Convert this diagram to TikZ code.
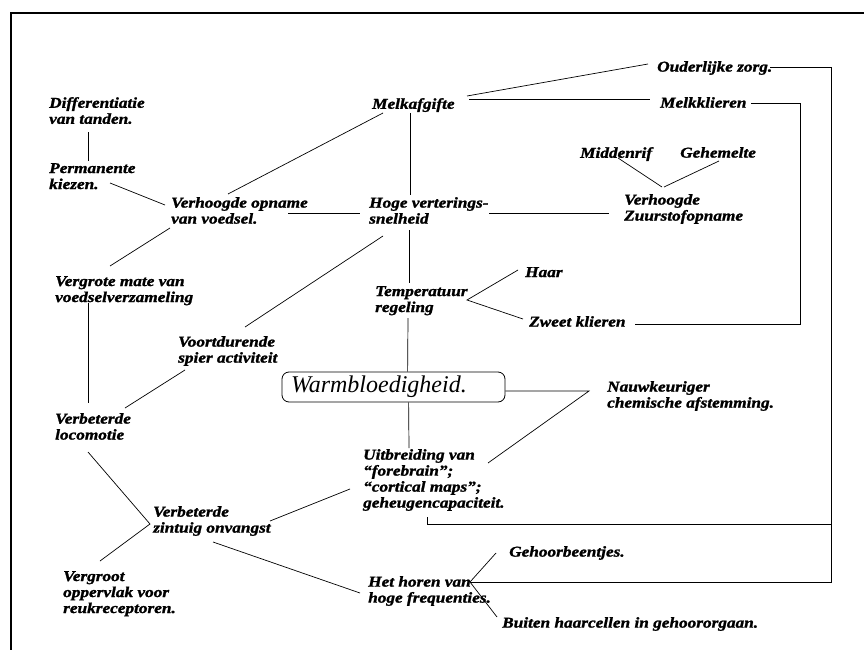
\documentclass[tikz,border=0pt]{standalone}
\usepackage{fontspec}
\setmainfont{Liberation Serif}
\newfontfamily\lblfont{Liberation Serif Bold Italic}[FakeStretch=1.15,FakeBold=1.5]
\newfontfamily\warmfont{Liberation Serif Italic}
\usetikzlibrary{calc}

\begin{document}
\begin{tikzpicture}[x=1pt,y=-1pt]
\tikzstyle{lbl}=[anchor=north west,inner sep=0pt,align=left,font=\lblfont\fontsize{15}{16}\selectfont]
\tikzstyle{conn}=[line width=.7pt]
\tikzstyle{warmbox}=[draw,line width=.8pt,rounded corners=7pt,text width=205pt,inner xsep=9pt,align=left,minimum height=30pt,inner ysep=0pt,font=\warmfont\fontsize{24}{24}\selectfont]

\useasboundingbox (0,0) rectangle (864,650);
\draw[line width=2pt] (11,650) -- (11,13) -- (864,13);

\node (diff) [lbl] at (49,97) {Differentiatie\\van tanden.};
\node (perm) [lbl] at (49,163) {Permanente\\kiezen.};
\node (opname) [lbl] at (171,197) {Verhoogde opname\\van voedsel.};
\node (melkafg) [lbl] at (372,98) {Melkafgifte};
\node (hoge) [lbl] at (369,197) {Hoge verterings-\\snelheid};
\node (zuur) [lbl] at (624,194) {Verhoogde\\Zuurstofopname};
\node (midden) [lbl] at (580,147) {Middenrif};
\node (gehem) [lbl] at (680,147) {Gehemelte};
\node (ouder) [lbl] at (657,61) {Ouderlijke zorg.};
\node (melkkl) [lbl] at (660,97) {Melkklieren};
\node (temp) [lbl] at (375,286) {Temperatuur\\regeling};
\node (haar) [lbl] at (525,267) {Haar};
\node (zweet) [lbl] at (529,316) {Zweet klieren};
\node (warm) [warmbox] at (393.5,387) {Warmbloedigheid.};
\node (nauw) [lbl] at (607,381) {Nauwkeuriger\\chemische afstemming.};
\node (uitbr) [lbl] at (363,449) {Uitbreiding van\\“forebrain”;\\“cortical maps”;\\geheugencapaciteit.};
\node (vergrote) [lbl] at (55,276) {Vergrote mate van\\voedselverzameling};
\node (voort) [lbl] at (178,336) {Voortdurende\\spier activiteit};
\node (loco) [lbl] at (55,413) {Verbeterde\\locomotie};
\node (zintuig) [lbl] at (153,506) {Verbeterde\\zintuig onvangst};
\node (reuk) [lbl] at (63,571) {Vergroot\\oppervlak voor\\reukreceptoren.};
\node (horen) [lbl] at (368,576) {Het horen van\\hoge frequenties.};
\node (gehoor) [lbl] at (509,546) {Gehoorbeentjes.};
\node (buiten) [lbl] at (502,617) {Buiten haarcellen in gehoororgaan.};

% junctions
\coordinate (tempj) at ($(temp.north west)+(92,14)$);
\coordinate (horenj) at ($(horen.north west)+(102,6)$);
\coordinate (nauwj) at ($(nauw.north west)+(-18,10)$);
\coordinate (zintj) at ($(zintuig.north west)+(-3,18)$);
\coordinate (rail) at (831,524);

\draw[conn] ($(diff.north west)+(39,35)$) -- ($(perm.north west)+(39,-2)$);
\draw[conn] ($(perm.north west)+(61,20)$) -- ($(opname.north west)+(-6,8)$);
\draw[conn] ($(opname.north west)+(57,-3)$) -- ($(melkafg.north west)+(11,15)$);
\draw[conn] ($(melkafg.north west)+(38,15)$) -- ($(hoge.north west)+(41,-2)$);
\draw[conn] ($(opname.north west)+(117,16)$) -- ($(hoge.north west)+(-9,16)$);
\draw[conn] ($(hoge.north west)+(120,16)$) -- ($(zuur.north west)+(-15,19)$);
\draw[conn] ($(midden.north west)+(38,11)$) -- ($(zuur.north west)+(38,-7)$);
\draw[conn] ($(gehem.north west)+(39,14)$) -- ($(zuur.north west)+(40,-7)$);
\draw[conn] ($(melkafg.north west)+(95,-2)$) -- ($(ouder.north west)+(-9,3)$);
\draw[conn] ($(melkafg.north west)+(97,1)$) -- ($(melkkl.north west)+(-10,2)$);
\draw[conn] ($(hoge.north west)+(40,33)$) -- ($(temp.north west)+(34,-3)$);
\draw[conn] ($(temp.north west)+(33,32)$) -- ($(warm.north west)+(126,0)$);
\draw[conn] ($(warm.south west)+(127,0)$) -- ($(uitbr.north west)+(46,-1)$);
\draw[conn] ($(warm.east)+(0,4)$) -- (nauwj) -- ($(uitbr.north west)+(125,14)$);
\draw[conn] ($(opname.north west)+(-1,31)$) -- ($(vergrote.north west)+(55,-10)$);
\draw[conn] ($(vergrote.north west)+(33,27)$) -- ($(loco.north west)+(33,-10)$);
\draw[conn] ($(hoge.north west)+(14,39)$) -- ($(voort.north west)+(67,-9)$);
\draw[conn] ($(voort.north west)+(7,34)$) -- ($(loco.north west)+(70,-5)$);
\draw[conn] ($(loco.north west)+(33,39)$) -- (zintj) -- ($(reuk.north west)+(37,-10)$);
\draw[conn] ($(zintuig.north west)+(117,15)$) -- ($(uitbr.north west)+(-13,40)$);
\draw[conn] ($(zintuig.north west)+(60,36)$) -- ($(horen.north west)+(-8,17)$);
\draw[conn] ($(haar.north west)+(-7,3)$) -- (tempj) -- ($(zweet.north west)+(-6,3)$);
\draw[conn] ($(gehoor.north west)+(-13,7)$) -- (horenj) -- ($(buiten.north west)+(-5,0)$);

% lines to the right
\draw[conn] ($(ouder.north west)+(113,6)$) -| (rail) |- (horenj);
\draw[conn] ($(uitbr.north west)+(64,68)$) |- (rail);
\draw[conn] ($(melkkl.north west)+(91,6)$) -- ++(49,0) |- ($(zweet.north west)+(106,8)$);

\end{tikzpicture}
\end{document}
